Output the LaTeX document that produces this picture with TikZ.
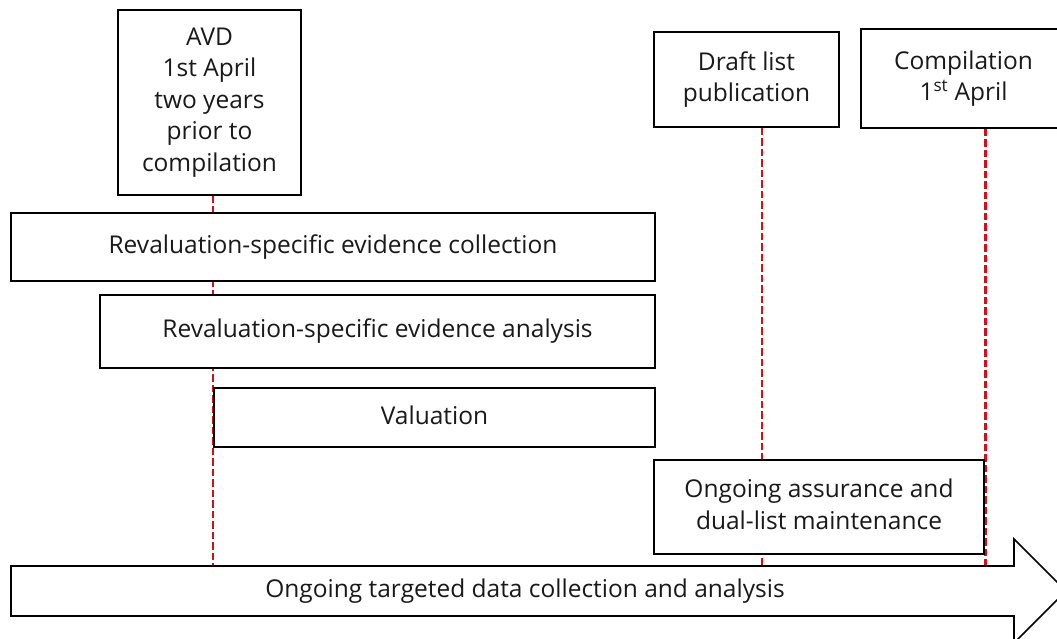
\documentclass[tikz,border=0pt]{standalone}
\usepackage{fontspec}
\setmainfont{Open Sans}
\definecolor{dred}{RGB}{204,18,28}
\definecolor{txt}{RGB}{25,25,25}
\newcommand{\twoline}[3]{\raisebox{#1}{\begin{tabular}{@{}c@{}}#2\\#3\end{tabular}}}
\tikzset{
  box/.style={draw=black, line width=1.7pt, fill=white, inner sep=0pt, align=center,
    font=\fontsize{24.5}{31.5}\selectfont, text=txt},
  redline/.style={draw=dred, line width=2.4pt, dash pattern=on 7.5pt off 3pt},
  lbl/.style={inner sep=0pt, align=center, font=\fontsize{24.5}{31.5}\selectfont, text=txt}
}
\begin{document}
\begin{tikzpicture}[x=1pt,y=-1pt]
\useasboundingbox (0,0) rectangle (1057,639);
\coordinate (arrowtop) at (0,566);
\path (209.5,102.5) node[box, minimum width=183pt, minimum height=185pt] (avd) {AVD\\1st April\\two years\\prior to\\compilation};
\path (746.5,79.5) node[box, minimum width=185pt, minimum height=95pt] (draft) {\twoline{3.5pt}{Draft list}{publication}};
\path (963.5,78.5) node[box, minimum width=205pt, minimum height=99pt] (comp) {\twoline{3pt}{Compilation}{1\textsuperscript{st} April}};
% red dashed timelines
\draw[redline] ([xshift=3.5pt]avd.south) -- ([xshift=3.5pt]avd.south |- arrowtop);
\draw[redline] ([xshift=15.5pt]draft.south) -- ([xshift=15.5pt]draft.south |- arrowtop);
\draw[redline] ([xshift=22pt]comp.south) -- ([xshift=22pt]comp.south |- arrowtop);
% activity boxes
\node[box, minimum width=644pt, minimum height=68pt] (b1) at (333,247) {\raisebox{6pt}{Revaluation-specific evidence collection}};
\node[box, minimum width=555pt, minimum height=73pt] (b2) at (377.5,331.5) {\raisebox{5pt}{Revaluation-specific evidence analysis}};
\node[box, minimum width=441pt, minimum height=59pt] (b3) at (434.5,417.5) {\raisebox{4pt}{Valuation}};
\node[box, minimum width=330pt, minimum height=94pt] (b4) at (819,507) {\twoline{3.5pt}{Ongoing assurance and}{dual-list maintenance}};
% big arrow
\draw[line width=1.7pt, fill=white] (11,566) -- (1014,566) -- (1014,539) -- (1066,591) -- (1014,643) -- (1014,616) -- (11,616) -- cycle;
\node[lbl] (arrowtext) at (525,591) {Ongoing targeted data collection and analysis};
\end{tikzpicture}
\end{document}
